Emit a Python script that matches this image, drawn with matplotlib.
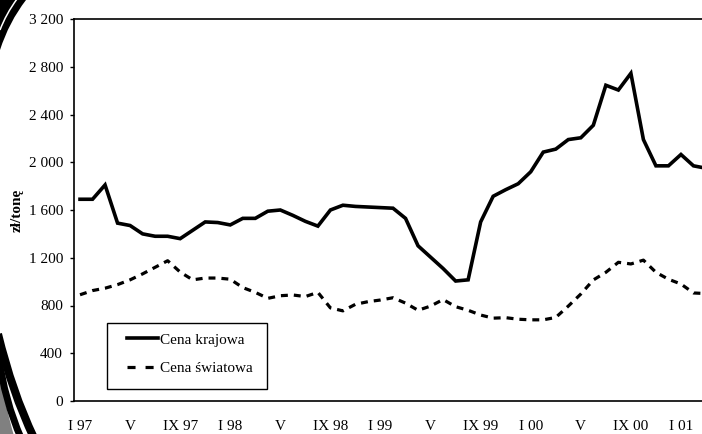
import matplotlib
matplotlib.use('Agg')
import matplotlib.pyplot as plt
from matplotlib.path import Path
from matplotlib.patches import PathPatch, Rectangle
from matplotlib.lines import Line2D
import numpy as np

plt.rcParams['font.family'] = ['Liberation Serif', 'DejaVu Serif']
plt.rcParams['lines.scale_dashes'] = False

# ---- data (monthly, I 1997 .. III 2001) ----
months = np.arange(51)
cena_krajowa = [1690, 1690, 1810, 1490, 1470, 1400, 1380, 1380, 1360, 1430,
                1500, 1495, 1475, 1530, 1530, 1590, 1600, 1555, 1505, 1465,
                1600, 1640, 1630, 1625, 1620, 1615, 1530, 1300, 1205, 1110,
                1005, 1015, 1500, 1715, 1770, 1820, 1920, 2085, 2110, 2190,
                2205, 2310, 2645, 2605, 2745, 2190, 1970, 1970, 2065, 1970,
                1950]
cena_swiatowa = [890, 925, 945, 975, 1015, 1065, 1120, 1175, 1080, 1015,
                 1030, 1030, 1020, 950, 910, 860, 882, 888, 875, 910,
                 780, 755, 810, 832, 846, 865, 820, 760, 795, 850,
                 790, 760, 720, 694, 698, 685, 680, 680, 700, 795,
                 896, 1014, 1078, 1162, 1148, 1180, 1078, 1020, 980, 905,
                 900]
tick_months = [0, 4, 8, 12, 16, 20, 24, 28, 32, 36, 40, 44, 48]
tick_labels = ['I 97', 'V', 'IX 97', 'I 98', 'V', 'IX 98', 'I 99', 'V',
               'IX 99', 'I 00', 'V', 'IX 00', 'I 01']
y_ticks = [0, 400, 800, 1200, 1600, 2000, 2400, 2800, 3200]
series_names = ['Cena krajowa', 'Cena światowa']

W, H = 702, 434
fig = plt.figure(figsize=(W / 100, H / 100), dpi=100)
fig.patch.set_facecolor('white')

ax = fig.add_axes([74 / W, 1 - 401 / H, 628 / W, 382 / H])
l1, = ax.plot(months, cena_krajowa, color='black', lw=2.6, label=series_names[0],
              solid_joinstyle='miter')
l2, = ax.plot(months, cena_swiatowa, color='black', lw=2.3, label=series_names[1],
              dashes=(5.0, 4.3))

ax.set_xlim(-0.48, 49.68)
ax.set_ylim(0, 3200)
ax.set_yticks(y_ticks)
ax.set_yticklabels([f"{v:,}".replace(',', ' ') for v in y_ticks])
ax.set_xticks(tick_months)
ax.set_xticklabels(tick_labels)
ax.tick_params(axis='y', direction='out', length=3, width=1, pad=5, labelsize=11)
ax.tick_params(axis='x', length=0, pad=14, labelsize=11)
for s in ['left', 'bottom', 'top']:
    ax.spines[s].set_linewidth(1.2)
ax.spines['right'].set_visible(False)

fig.text(17 / W, 1 - 210 / H, 'zł/tonę', rotation=90, ha='center', va='center',
         fontweight='bold', fontsize=11)

# legend
rect = Rectangle((107 / W, 1 - 389 / H), 160 / W, 66 / H, transform=fig.transFigure,
                 facecolor='white', edgecolor='black', lw=1.0, zorder=4, clip_on=False)
ax.add_patch(rect)
proxy_dash = Line2D([], [], color='black', lw=2.3, dashes=(5.8, 7.2))
leg = ax.legend(handles=[l1, proxy_dash], labels=series_names,
                frameon=False, loc='upper left', bbox_to_anchor=(127 / W, 1 - 333 / H),
                bbox_transform=fig.transFigure, borderpad=0, borderaxespad=0,
                handlelength=2.0, handletextpad=0.15, labelspacing=0.95, fontsize=11)
leg.set_zorder(5)

# scan artifact (page curl) at left edge
axo = fig.add_axes([0, 0, 1, 1], zorder=10)
axo.set_xlim(0, W)
axo.set_ylim(H, 0)
axo.axis('off')
C3 = Path.CURVE3
p1 = Path([(0, 0), (26, 0), (9, 22), (0, 50), (0, 0)],
          [Path.MOVETO, Path.LINETO, C3, C3, Path.CLOSEPOLY])
axo.add_patch(PathPatch(p1, facecolor='black', edgecolor='none'))
p2 = Path([(17, -1), (6, 14), (0, 30)], [Path.MOVETO, C3, C3])
axo.add_patch(PathPatch(p2, facecolor='none', edgecolor='white', lw=1.1))
p3 = Path([(0, 372), (5, 405), (14, 436), (0, 436), (0, 372)],
          [Path.MOVETO, C3, C3, Path.LINETO, Path.CLOSEPOLY])
axo.add_patch(PathPatch(p3, facecolor='#808080', edgecolor='none'))
p4 = Path([(-2, 334), (12, 392), (34, 438)], [Path.MOVETO, C3, C3])
axo.add_patch(PathPatch(p4, facecolor='none', edgecolor='black', lw=5.8))
p5 = Path([(-2, 354), (5, 402), (21, 438)], [Path.MOVETO, C3, C3])
axo.add_patch(PathPatch(p5, facecolor='none', edgecolor='black', lw=5.0))

fig.savefig('out.png', dpi=100)
